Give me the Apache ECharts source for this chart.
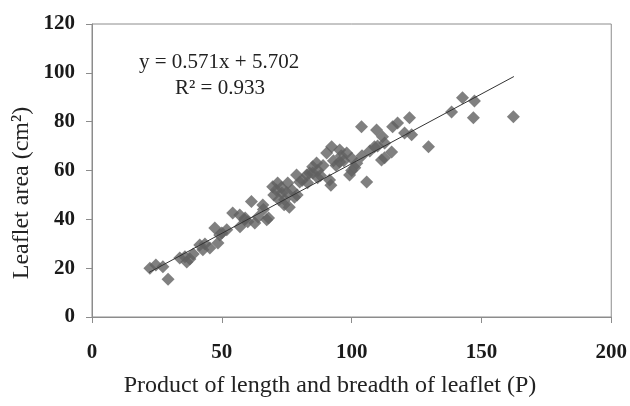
<!DOCTYPE html>
<html>
<head>
<meta charset="utf-8">
<script src="https://cdn.jsdelivr.net/npm/echarts@6/dist/echarts.min.js"></script>
<style>
  html, body { margin: 0; padding: 0; background: #fff; }
  #chart { width: 630px; height: 406px; }
</style>
</head>
<body>
<div id="chart"></div>
<script>
// product of length x breadth (P) and measured leaflet area (cm2)
const productP = [
    22.3, 24.6, 27.3, 29.3, 33.8, 35.8, 36.5, 37.7, 39.0, 41.5,
    42.7, 43.5, 45.4, 47.3, 48.5, 49.2, 50.0, 51.9, 54.2, 56.9,
    58.8, 61.4, 62.7, 65.8, 67.3, 69.6, 71.5, 73.1, 74.2, 75.4,
    78.8, 80.0, 82.7, 85.0, 86.9, 83.8, 86.5, 90.4, 92.3, 95.4,
    98.1, 95.4, 91.5, 99.2, 101.2, 105.8, 103.8, 109.6, 108.8, 111.9,
    115.8, 111.5, 115.4, 112.7, 112.7, 117.7, 122.3, 120.4, 123.1, 129.6,
    138.5, 142.7, 147.3, 146.9, 162.3,
    57, 59, 60, 64, 66, 68, 70, 71, 72, 73,
    74, 75, 76, 77, 78, 79, 81, 83, 85, 87,
    88, 89, 92, 93, 94, 96, 97, 100, 100, 102,
    104, 107, 110
];
const leafArea = [
    20.0, 21.3, 20.6, 15.5, 24.2, 24.7, 22.5, 23.8, 25.8, 29.5,
    27.5, 29.9, 28.3, 36.5, 30.3, 33.6, 34.4, 35.7, 42.6, 41.8,
    39.8, 47.3, 38.5, 45.9, 39.8, 53.3, 54.9, 50.8, 48.0, 54.9,
    58.2, 55.3, 58.2, 61.5, 57.0, 59.0, 63.1, 67.2, 69.7, 68.4,
    67.2, 63.5, 56.1, 58.2, 61.1, 55.3, 77.9, 76.6, 69.7, 73.8,
    77.9, 64.3, 67.6, 71.3, 65.2, 79.5, 81.6, 75.4, 74.6, 69.7,
    84.0, 89.8, 88.5, 81.6, 82.0,
    37, 40.5, 39, 41, 44, 40.5, 50, 52, 48, 53,
    46, 51, 45, 52, 49, 50, 56, 55, 59, 60,
    58, 62, 54, 64, 62, 66, 64, 65, 60, 63,
    66, 68, 70
];

// fitted linear trend
const slope = 0.571;
const intercept = 5.702;
const fitRange = [22, 162.5];

const xTicks = [0, 50, 100, 150, 200];
const yTicks = [0, 20, 40, 60, 80, 100, 120];

const points = productP.map((p, i) => [p, leafArea[i]]);
const fitLine = fitRange.map(x => [x, slope * x + intercept]);

const chart = echarts.init(document.getElementById('chart'));

const serif = '"Liberation Serif", "DejaVu Serif", serif';
const axisGray = '#8c8c8c';

chart.setOption({
    animation: false,
    backgroundColor: '#fff',
    grid: { left: 92, right: 18, top: 24, bottom: 89, show: true, borderColor: axisGray, borderWidth: 1 },
    xAxis: {
        type: 'value',
        min: xTicks[0],
        max: xTicks[xTicks.length - 1],
        interval: 50,
        axisLine: { show: true, lineStyle: { color: axisGray } },
        axisTick: { show: true, inside: false, length: 6, lineStyle: { color: axisGray } },
        splitLine: { show: false },
        axisLabel: { margin: 25, color: '#1a1a1a', fontFamily: serif, fontWeight: 'bold', fontSize: 21 }
    },
    yAxis: {
        type: 'value',
        min: yTicks[0],
        max: yTicks[yTicks.length - 1],
        interval: 20,
        axisLine: { show: true, lineStyle: { color: axisGray } },
        axisTick: { show: true, inside: false, length: 6, lineStyle: { color: axisGray } },
        splitLine: { show: false },
        axisLabel: { margin: 17, color: '#1a1a1a', fontFamily: serif, fontWeight: 'bold', fontSize: 21 }
    },
    graphic: [
        {
            type: 'text', left: 139, top: 52,
            style: { text: 'y = 0.571x + 5.702', font: '21px ' + serif, fill: '#222' }
        },
        {
            type: 'text', left: 175, top: 78,
            style: { text: 'R² = 0.933', font: '21px ' + serif, fill: '#222' }
        },
        {
            type: 'text', x: 22, y: 193, rotation: Math.PI / 2,
            style: { text: 'Leaflet area (cm²)', font: '24px ' + serif, fill: '#222', textAlign: 'center', textVerticalAlign: 'middle' }
        },
        {
            type: 'text', x: 330, y: 386,
            style: { text: 'Product of length and breadth of leaflet (P)', font: '24px ' + serif, fill: '#222', textAlign: 'center', textVerticalAlign: 'middle' }
        }
    ],
    series: [
        {
            type: 'scatter',
            symbol: 'diamond',
            symbolSize: 13,
            itemStyle: { color: '#606060' },
            data: points,
            z: 2
        },
        {
            type: 'line',
            data: fitLine,
            symbol: 'none',
            lineStyle: { color: '#333', width: 1 },
            z: 3
        }
    ]
});
</script>
</body>
</html>
